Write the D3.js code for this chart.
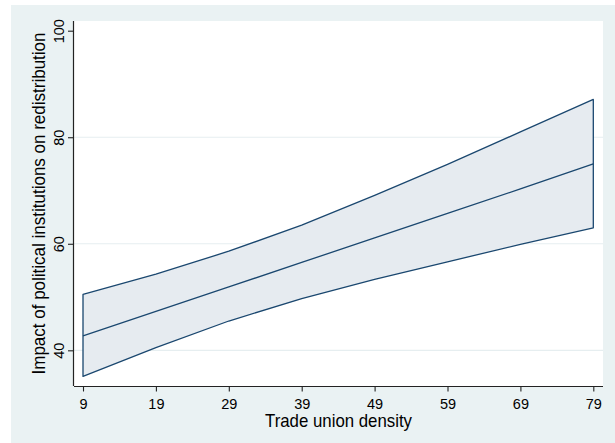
<!DOCTYPE html>
<html>
<head>
<meta charset="utf-8">
<script src="https://cdn.jsdelivr.net/npm/d3@7"></script>
<style>
  html, body { margin: 0; padding: 0; background: #ffffff; }
  svg { display: block; }
  text { font-family: "Liberation Sans", Arial, Helvetica, sans-serif; fill: #000; }
</style>
</head>
<body>
<svg id="chart" width="615" height="443"></svg>
<script>
// Trade union density values at which the effect is evaluated
const density = [9, 19, 29, 39, 49, 59, 69, 79];
// Estimated impact and its confidence bounds
const estimate = [42.7, 47.3, 51.9, 56.5, 61.1, 65.7, 70.3, 75.0];
const upper    = [50.5, 54.3, 58.6, 63.5, 69.1, 74.9, 81.0, 87.1];
const lower    = [35.1, 40.5, 45.5, 49.7, 53.3, 56.6, 59.9, 63.0];
// Axis ticks
const xTicks = [9, 19, 29, 39, 49, 59, 69, 79];
const yTicks = [40, 60, 80, 100];
const gridTicks = [40, 60, 80];

const svg = d3.select("#chart");
const W = 615, H = 443;
const plot = { left: 74, right: 603, top: 21, bottom: 386 };

// Outer graph region
svg.append("rect")
  .attr("x", 11).attr("y", 5)
  .attr("width", W - 11).attr("height", H - 5)
  .attr("fill", "#eaf2f3");

// Plot region
svg.append("rect")
  .attr("x", plot.left).attr("y", plot.top)
  .attr("width", plot.right - plot.left).attr("height", plot.bottom - plot.top)
  .attr("fill", "#ffffff");

const x = d3.scaleLinear().domain([7.765, 80.33]).range([plot.left, plot.right]);
const y = d3.scaleLinear().domain([33.30, 101.82]).range([plot.bottom, plot.top]);

// Horizontal grid lines
svg.append("g").selectAll("line")
  .data(gridTicks)
  .join("line")
  .attr("x1", plot.left).attr("x2", plot.right)
  .attr("y1", d => y(d)).attr("y2", d => y(d))
  .attr("stroke", "#e6eef0")
  .attr("stroke-width", 1.2);

const rows = density.map((d, i) => ({ x: d, est: estimate[i], lo: lower[i], hi: upper[i] }));

// Confidence band, outlined all round
const band = d3.area()
  .x(d => x(d.x))
  .y0(d => y(d.lo))
  .y1(d => y(d.hi));

const outline = rows.map(d => [x(d.x), y(d.hi)])
  .concat(rows.slice().reverse().map(d => [x(d.x), y(d.lo)]));

svg.append("path")
  .datum(rows)
  .attr("d", band)
  .attr("fill", "#e6ebf0")
  .attr("stroke", "none");

svg.append("path")
  .attr("d", d3.line()(outline) + "Z")
  .attr("fill", "none")
  .attr("stroke", "#1a476f")
  .attr("stroke-width", 1.3)
  .attr("stroke-linejoin", "round");

// Point estimate line
svg.append("path")
  .datum(rows)
  .attr("d", d3.line().x(d => x(d.x)).y(d => y(d.est)))
  .attr("fill", "none")
  .attr("stroke", "#1a476f")
  .attr("stroke-width", 1.3);

// Bottom axis
const xAxis = svg.append("g")
  .attr("transform", `translate(0,${plot.bottom})`)
  .call(d3.axisBottom(x).tickValues(xTicks).tickSizeOuter(0).tickSize(5.5).tickPadding(6));
xAxis.select(".domain").attr("d", `M${plot.left},0.5H${plot.right}`).attr("stroke", "#222").attr("stroke-width", 1.2);
xAxis.selectAll(".tick line").attr("stroke", "#222").attr("stroke-width", 1.1);
xAxis.selectAll(".tick text")
  .attr("font-size", 14.5)
  .attr("font-family", "Liberation Sans, Arial, sans-serif")
  .attr("fill", "#000")
  .attr("dy", null)
  .attr("y", 23);

// Left axis with vertical tick labels
const yAxis = svg.append("g")
  .attr("transform", `translate(${plot.left},0)`)
  .call(d3.axisLeft(y).tickValues(yTicks).tickSizeOuter(0).tickSize(6));
yAxis.select(".domain").attr("d", `M-0.5,${plot.top}V${plot.bottom}`).attr("stroke", "#222").attr("stroke-width", 1.2);
yAxis.selectAll(".tick line").attr("stroke", "#222").attr("stroke-width", 1.1);
yAxis.selectAll(".tick text")
  .attr("font-size", 14.5)
  .attr("font-family", "Liberation Sans, Arial, sans-serif")
  .attr("fill", "#000")
  .attr("x", null).attr("dy", null)
  .attr("text-anchor", "middle")
  .attr("transform", "translate(-10.5,0) rotate(-90)");

// Axis titles
svg.append("text")
  .attr("x", (plot.left + plot.right) / 2)
  .attr("y", 426.7)
  .attr("text-anchor", "middle")
  .attr("font-size", 18.5)
  .attr("textLength", 147)
  .attr("lengthAdjust", "spacingAndGlyphs")
  .text("Trade union density");

svg.append("text")
  .attr("transform", `translate(45,${(plot.top + plot.bottom) / 2}) rotate(-90)`)
  .attr("text-anchor", "middle")
  .attr("font-size", 18.5)
  .attr("textLength", 342)
  .attr("lengthAdjust", "spacingAndGlyphs")
  .text("Impact of political institutions on redistribution");
</script>
</body>
</html>
